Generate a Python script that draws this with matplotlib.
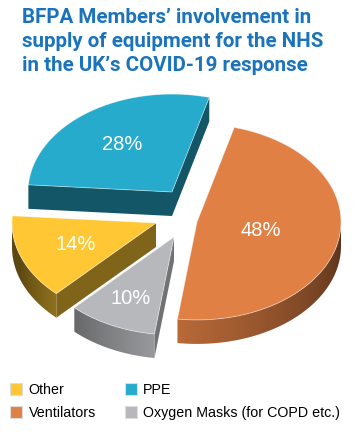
import numpy as np
import matplotlib.pyplot as plt
from matplotlib.patches import Polygon, Patch
from matplotlib.colors import to_rgb

# data
slice_names = ["Ventilators", "Oxygen Masks (for COPD etc.)", "Other", "PPE"]
slice_pct = [48, 10, 14, 28]
slice_colors = ["#e08044", "#b6b8bb", "#fec733", "#26abcd"]
legend_order = ["Other", "Ventilators", "PPE", "Oxygen Masks (for COPD etc.)"]

title = "BFPA Members\u2019 involvement in\nsupply of equipment for the NHS\nin the UK\u2019s COVID-19 response"

# look of the fake 3d pie (pixel units)
R = 144          # radius
K = 0.68         # tilt squash
DEPTH = 24
START = 75       # degrees, slices go clockwise
vertex = {"Ventilators": (197, 222), "Oxygen Masks (for COPD etc.)": (174, 237),
          "Other": (156, 223), "PPE": (172, 192)}
label_frac = {"Ventilators": 0.45, "Oxygen Masks (for COPD etc.)": 0.7,
              "Other": 0.6, "PPE": 0.6}
face_shade = {"Ventilators": 0.5, "Oxygen Masks (for COPD etc.)": 0.62,
              "Other": 0.5, "PPE": 0.5}


def pt(v, a, dz=0):
    return (v[0] + R * np.cos(np.radians(a)), v[1] - K * R * np.sin(np.radians(a)) + dz)


def shade(c, f):
    return tuple(np.clip(np.array(to_rgb(c)) * f, 0, 1))


def wall_shade(a):
    # light comes roughly from the front, a bit to the left
    if a >= -97:
        f = 0.82 - 0.0045 * (a + 97)
    else:
        f = 0.84 - 0.0075 * (-97 - a)
    return max(f, 0.36)


fig = plt.figure(figsize=(3.58, 4.38), dpi=100)
ax = fig.add_axes([0, 0, 1, 1])
ax.axis("off")

# angles of each slice
spans = {}
a2 = START
for name, p in zip(slice_names, slice_pct):
    a1 = a2 - p * 3.6
    spans[name] = (a1, a2)
    a2 = a1

# draw back to front
order = ["PPE", "Ventilators", "Other", "Oxygen Masks (for COPD etc.)"]
for name in order:
    a1, a2 = spans[name]
    col = slice_colors[slice_names.index(name)]
    v = vertex[name]
    vb = (v[0], v[1] + DEPTH)

    # radial side faces facing the viewer
    for a, vis in ((a1, np.cos(np.radians(a1)) > 0), (a2, np.cos(np.radians(a2)) < 0)):
        if vis:
            quad = [v, pt(v, a), pt(v, a, DEPTH), vb]
            ax.add_patch(Polygon(quad, closed=True, facecolor=shade(col, face_shade[name]),
                                 edgecolor="none"))

    # outer wall on the front half, shaded with a gradient
    lo, hi = max(a1, -180), min(a2, 0)
    if hi > lo:
        steps = np.linspace(lo, hi, 80)
        wall = [pt(v, s) for s in steps] + [pt(v, s, DEPTH) for s in steps[::-1]]
        wall_patch = Polygon(wall, closed=True, facecolor="none", edgecolor="none")
        ax.add_patch(wall_patch)
        xs = np.array([p[0] for p in wall])
        ys = np.array([p[1] for p in wall])
        cols = np.linspace(xs.min(), xs.max(), 200)
        ang = -np.degrees(np.arccos(np.clip((cols - v[0]) / R, -1, 1)))
        img = np.array([[shade(col, wall_shade(g)) for g in ang]])
        im = ax.imshow(img, extent=(xs.min(), xs.max(), ys.max(), ys.min()),
                       aspect="auto", interpolation="bilinear", zorder=1)
        im.set_clip_path(wall_patch)

    # top face
    arc = [pt(v, a) for a in np.linspace(a1, a2, 120)]
    ax.add_patch(Polygon([v] + arc, closed=True, facecolor=col, zorder=2,
                         edgecolor=(1, 1, 1, 0.5), lw=0.6, joinstyle="round"))

    # percentage label
    mid = np.radians((a1 + a2) / 2)
    f = label_frac[name]
    pct = slice_pct[slice_names.index(name)]
    ax.text(v[0] + f * R * np.cos(mid), v[1] - f * K * R * np.sin(mid), f"{pct}%",
            color="white", fontsize=14.5, family="Liberation Sans",
            ha="center", va="center", zorder=5)

ax.set_xlim(0, 358)
ax.set_ylim(438, 0)

fig.text(22 / 358, 1 - 8 / 438, title, ha="left", va="top", color="#1b74bb",
         fontsize=14.8, fontweight="bold", family="Roboto", linespacing=1.32)

handles = [Patch(facecolor=slice_colors[slice_names.index(n)], edgecolor="#dddddd", lw=0.8, label=n)
           for n in legend_order]
fig.legend(handles=handles, ncol=2, loc="upper left", bbox_to_anchor=(3 / 358, 1 - 376 / 438),
           frameon=False, prop={"family": "Liberation Sans", "size": 10.3},
           handlelength=0.85, handleheight=0.85, handletextpad=0.45, columnspacing=2.0,
           labelspacing=0.62, borderpad=0)

fig.savefig("out.png", dpi=100)
